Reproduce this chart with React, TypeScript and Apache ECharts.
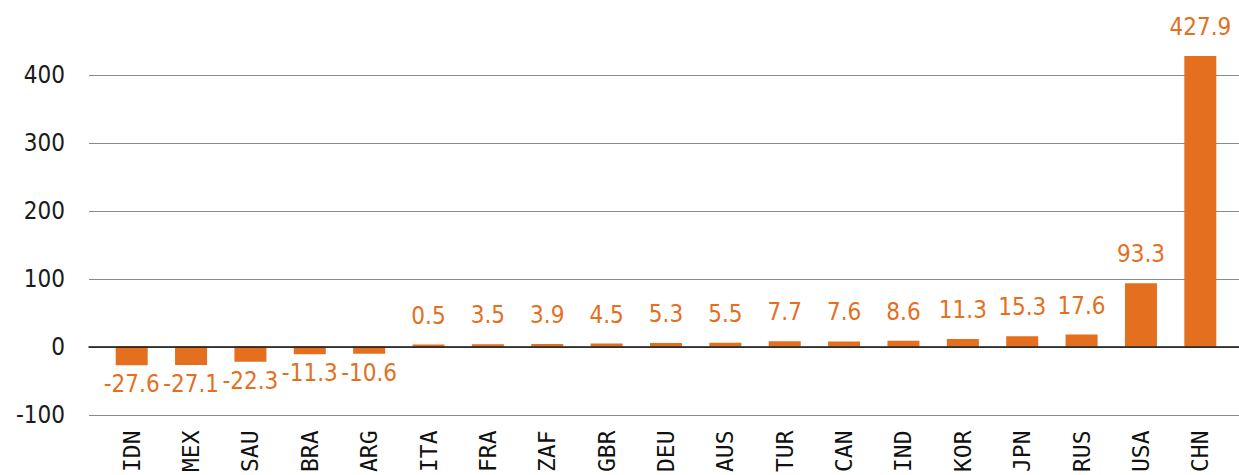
import React, { useEffect, useRef } from "react";
import * as echarts from "echarts";

const categories = ["IDN", "MEX", "SAU", "BRA", "ARG", "ITA", "FRA", "ZAF", "GBR", "DEU", "AUS", "TUR", "CAN", "IND", "KOR", "JPN", "RUS", "USA", "CHN"];
const values = [-27.6, -27.1, -22.3, -11.3, -10.6, 0.5, 3.5, 3.9, 4.5, 5.3, 5.5, 7.7, 7.6, 8.6, 11.3, 15.3, 17.6, 93.3, 427.9];
const yMin = -100;
const yMax = 400;
const yInterval = 100;

const ORANGE = "#E36F1F";
const FONT = "'DejaVu Sans Condensed', 'DejaVu Sans', sans-serif";

export default function App() {
  const ref = useRef<HTMLDivElement>(null);
  useEffect(() => {
    if (!ref.current) return;
    const chart = echarts.init(ref.current, null, { renderer: "svg" });
    const data = values.map((v) => ({
      value: v,
      label: v < 0 ? { position: "bottom", distance: 7 } : { position: "top", distance: 17 },
    }));
    chart.setOption({
      animation: false,
      grid: [
        { left: 89, right: 0, top: 75, bottom: 60 },
        { left: 102, right: 9, top: 75, bottom: 60 },
      ],
      xAxis: [
        {
          gridIndex: 0,
          type: "category",
          data: categories,
          axisLine: { show: true, onZero: true, lineStyle: { color: "#111", width: 1.5 } },
          axisTick: { show: false },
          axisLabel: { show: false },
          z: 5,
        },
        {
          gridIndex: 1,
          type: "category",
          data: categories,
          axisLine: { show: false, onZero: false },
          axisTick: { show: false },
          axisLabel: {
            rotate: 90,
            margin: 16,
            fontSize: 23,
            color: "#111",
            fontFamily: "'DejaVu Sans Mono', monospace",
          },
        },
      ],
      yAxis: [
        {
          gridIndex: 0,
          type: "value",
          min: yMin,
          max: yMax,
          interval: yInterval,
          axisLine: { show: false },
          axisTick: { show: false },
          splitLine: { lineStyle: { color: "#8a8a8a", width: 1 } },
          axisLabel: { margin: 24, fontSize: 24, color: "#1a1a1a", fontFamily: FONT },
        },
        {
          gridIndex: 1,
          type: "value",
          min: yMin,
          max: yMax,
          interval: yInterval,
          show: false,
          splitLine: { show: false },
        },
      ],
      series: [
        {
          type: "bar",
          xAxisIndex: 1,
          yAxisIndex: 1,
          data,
          barWidth: 32,
          barMinHeight: 2,
          clip: false,
          itemStyle: { color: ORANGE },
          label: {
            show: true,
            color: ORANGE,
            fontSize: 24,
            fontFamily: FONT,
            formatter: (p: any) => p.value.toFixed(1),
          },
          z: 3,
        },
      ],
    });
    return () => chart.dispose();
  }, []);
  return <div ref={ref} style={{ width: 1239, height: 475, position: "absolute", left: 0, top: 0 }} />;
}
